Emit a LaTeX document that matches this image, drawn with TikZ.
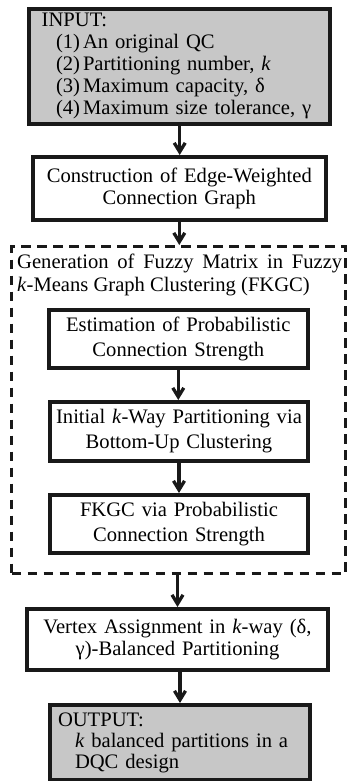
\documentclass[tikz,border=0pt]{standalone}
\usepackage{fontspec}
\setmainfont{Liberation Serif}
\usetikzlibrary{arrows.meta}
\tikzset{
  basebox/.style={draw=black!90, line width=4pt, inner sep=0pt,
    font=\fontsize{20.6}{22}\selectfont},
  stepbox/.style={basebox, align=center, text width=256pt},
  innerbox/.style={basebox, align=center, text width=250pt,
    font=\fontsize{20.6}{25}\selectfont},
  graybox/.style={basebox, fill=black!22, align=left},
  groupbox/.style={draw=black!90, line width=3pt, dash pattern=on 9.5pt off 6.5pt},
  titletext/.style={inner sep=0pt, anchor=base west, font=\fontsize{20.6}{22}\selectfont},
  arr/.style={draw=black!90, line width=3.3pt,
    -{Straight Barb[length=9pt, width=11pt, line width=3.3pt]}}
}
\begin{document}
\begin{tikzpicture}[x=1pt,y=-1pt]
\useasboundingbox (0,0) rectangle (350,781);

\node[graybox, text width=276pt, minimum width=300.7pt, minimum height=115.3pt] (inp) at (179.7,66.4)
 {INPUT:\\
  \hspace*{14.3pt}(1)\hspace{3pt}An original QC\\
  \hspace*{14.3pt}(2)\hspace{3pt}Partitioning number, \textit{k}\\
  \hspace*{14.3pt}(3)\hspace{3pt}Maximum capacity, δ\\
  \hspace*{14.3pt}(4)\hspace{3pt}Maximum size tolerance, γ};

\node[stepbox, text width=285pt, minimum width=293.3pt, minimum height=63pt] (con) at (179.3,188.5)
 {Construction of Edge-Weighted\\Connection Graph};

\node[groupbox, minimum width=334pt, minimum height=327pt] (grp) at (178.5,410) {};
\node[titletext] (t1) at (17,268) {\makebox[325pt][s]{Generation of Fuzzy Matrix in Fuzzy}};
\node[titletext] (t2) at (17,291.7) {\textit{k}-Means Graph Clustering (FKGC)};

\node[innerbox, minimum width=259.3pt, minimum height=57.7pt] (est) at (178.3,339.2)
 {Estimation of Probabilistic\\Connection Strength};
\node[innerbox, minimum width=258pt, minimum height=59pt] (ini) at (179,431.5)
 {Initial \textit{k}-Way Partitioning via\\Bottom-Up Clustering};
\node[innerbox, minimum width=258pt, minimum height=58pt] (fkg) at (179,524)
 {FKGC via Probabilistic\\Connection Strength};

\node[stepbox, text width=290pt, minimum width=301pt, minimum height=61pt] (ver) at (177.5,639.5)
 {Vertex Assignment in \textit{k}-way (δ,\\γ)-Balanced Partitioning};

\node[graybox, text width=244pt, minimum width=259.4pt, minimum height=75pt,
  font=\fontsize{20.6}{21}\selectfont] (out) at (180,742.5)
 {OUTPUT:\\
  \hspace*{17pt}\makebox[227pt][s]{\textit{k} balanced partitions in a}\\
  \hspace*{17pt}DQC design};

\draw[arr] (inp.south) -- (inp.south |- con.north);
\draw[arr] (con.south) -- (con.south |- grp.north);
\draw[arr] (est.south) -- (est.south |- ini.north);
\draw[arr] (ini.south) -- (ini.south |- fkg.north);
\draw[arr] (grp.south -| ver.north) -- (ver.north);
\draw[arr] (ver.south -| out.north) -- (out.north);
\end{tikzpicture}
\end{document}
